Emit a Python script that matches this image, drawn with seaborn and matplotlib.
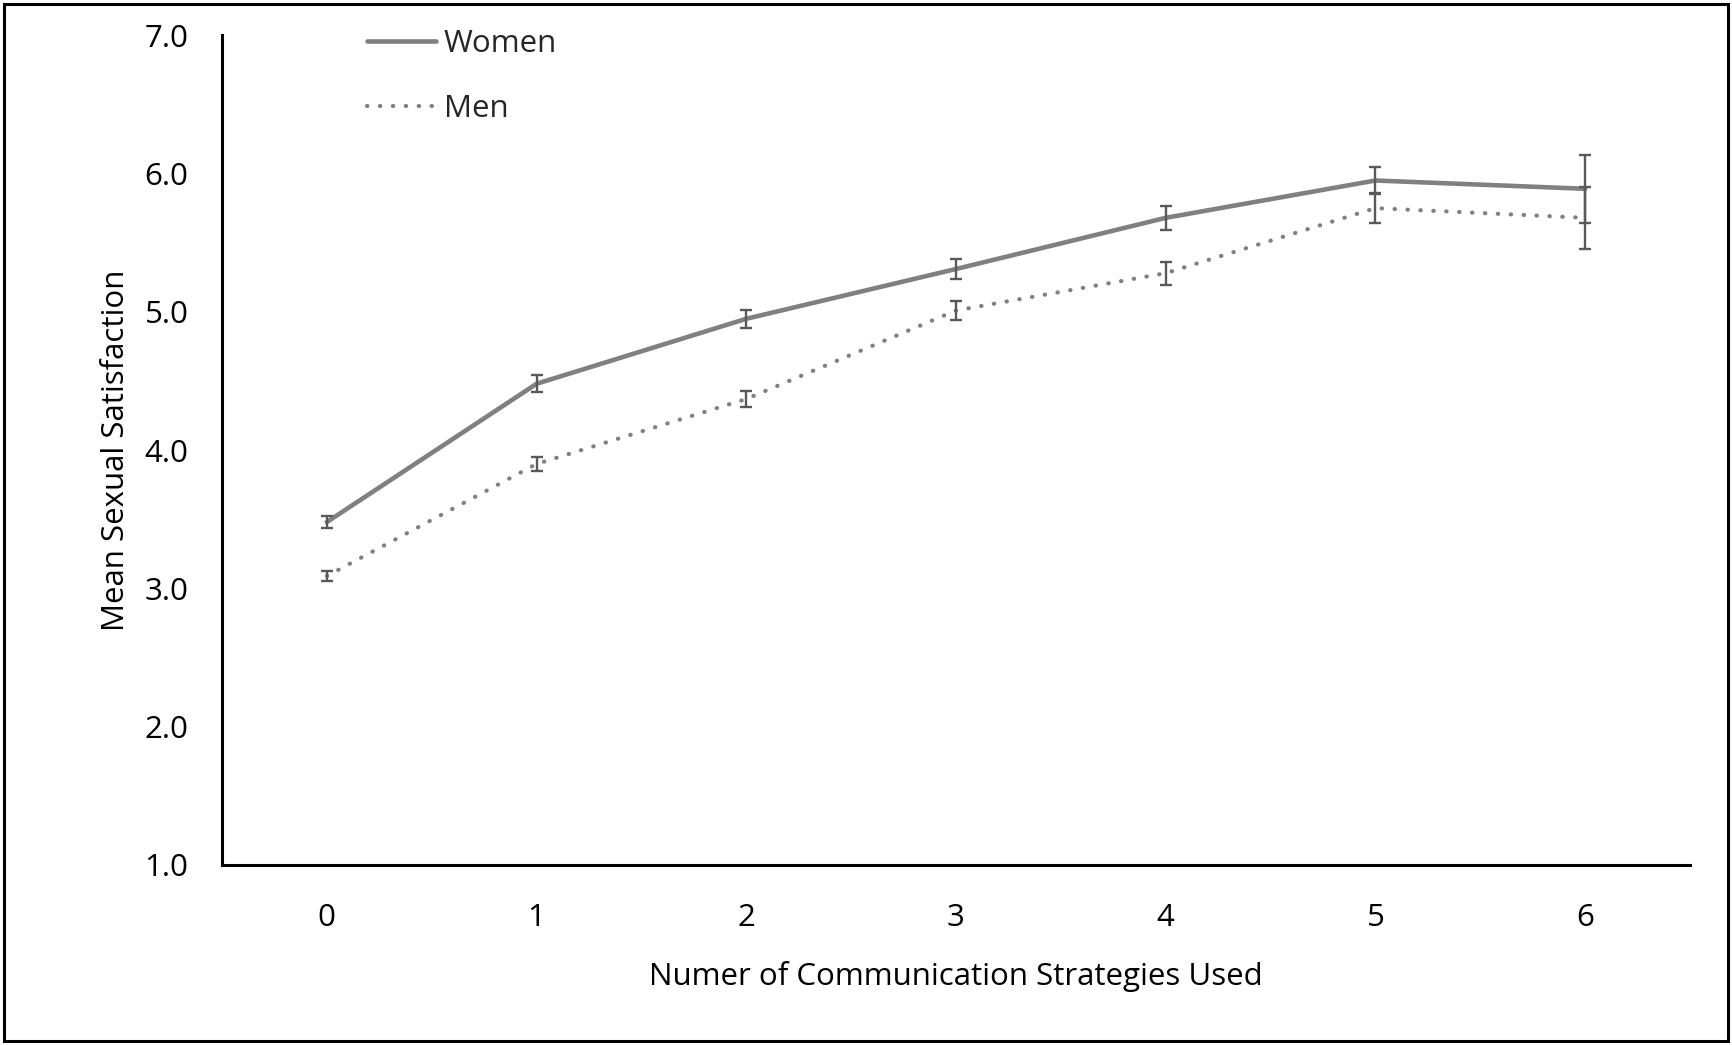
import matplotlib
matplotlib.use("Agg")
import matplotlib.pyplot as plt
import seaborn as sns
import pandas as pd
from matplotlib.patches import Rectangle

# ---- data ----
strategies = [0, 1, 2, 3, 4, 5, 6]
women = [3.48, 4.48, 4.95, 5.31, 5.68, 5.95, 5.89]
women_err = [0.043, 0.06, 0.066, 0.075, 0.089, 0.096, 0.244]
men = [3.09, 3.90, 4.37, 5.01, 5.28, 5.75, 5.68]
men_err = [0.036, 0.048, 0.06, 0.069, 0.084, 0.108, 0.224]
series_names = ["Women", "Men"]
y_ticks = [1.0, 2.0, 3.0, 4.0, 5.0, 6.0, 7.0]
x_label = "Numer of Communication Strategies Used"
y_label = "Mean Sexual Satisfaction"

sns.set_theme(style="white")
plt.rcParams["font.family"] = ["Open Sans", "DejaVu Sans"]

df = pd.DataFrame({
    "x": strategies * 2,
    "y": women + men,
    "group": [series_names[0]] * len(strategies) + [series_names[1]] * len(strategies),
})

FS = 22.5
W, H = 1732, 1045
fig = plt.figure(figsize=(W / 100, H / 100), dpi=100)
ax_left, ax_right, ax_top, ax_bottom = 222, 1690, 35.3, 865
ax = fig.add_axes([ax_left / W, 1 - ax_bottom / H, (ax_right - ax_left) / W, (ax_bottom - ax_top) / H])

line_color = "#808080"
err_color = "#595959"

sns.lineplot(data=df, x="x", y="y", hue="group", style="group",
             palette={series_names[0]: line_color, series_names[1]: line_color},
             dashes={series_names[0]: "", series_names[1]: (0.1, 3.0)},
             linewidth=3.3, ax=ax, legend=False, zorder=2)

for ln in ax.get_lines():
    ln.set_dash_capstyle("round")
    ln.set_solid_capstyle("round")
lines = ax.get_lines()
lines[1].set_linewidth(3.0)

for vals, errs in [(women, women_err), (men, men_err)]:
    ax.errorbar(strategies, vals, yerr=errs, fmt="none", ecolor=err_color,
                elinewidth=1.7, capsize=4.6, capthick=1.7, zorder=3)

ax.set_xlim(-0.5, 6.5)
ax.set_ylim(1, 7)
ax.set_xticks(strategies)
ax.set_xticklabels([str(s) for s in strategies])
ax.set_yticks(y_ticks)
ax.set_yticklabels([f"{t:.1f}" for t in y_ticks])
ax.tick_params(axis="both", length=0, labelsize=FS, colors="black")
ax.tick_params(axis="y", pad=24)
ax.tick_params(axis="x", pad=27.5)
ax.set_xlabel(x_label, fontsize=FS, color="black", labelpad=20)
ax.set_ylabel(y_label, fontsize=FS, color="black", labelpad=9.5)

for side in ["top", "right"]:
    ax.spines[side].set_visible(False)
for side in ["left", "bottom"]:
    ax.spines[side].set_color("black")
    ax.spines[side].set_linewidth(2.2)

leg = ax.legend(lines, series_names, loc="upper left",
                bbox_to_anchor=(367 / W, 1 - 28.5 / H), bbox_transform=fig.transFigure,
                frameon=False, fontsize=FS, handlelength=2.2, handletextpad=0.25,
                labelspacing=1.14, borderpad=0, borderaxespad=0)

fig.patches.append(Rectangle((4 / W, 4 / H), (W - 8) / W, (H - 8) / H,
                             transform=fig.transFigure, fill=False,
                             edgecolor="black", linewidth=2.2))

fig.savefig("out.png", dpi=100)
